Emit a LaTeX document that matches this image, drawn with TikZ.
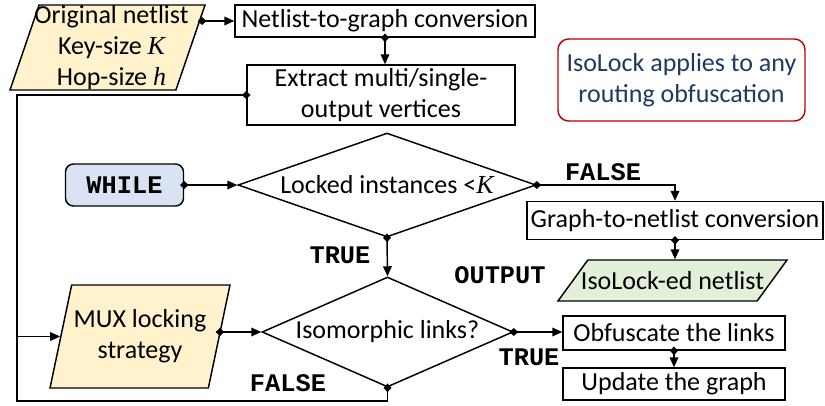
\documentclass[tikz,border=0pt]{standalone}
\usepackage{fontspec}
\setmainfont{Carlito}
\setmonofont{Liberation Mono}
\newfontfamily\serifvar{Liberation Serif}
\newcommand\mv[1]{{\serifvar\itshape #1}}
\usetikzlibrary{shapes.geometric,arrows.meta,calc}
\definecolor{inpc}{HTML}{FFF2CC}
\definecolor{whc}{HTML}{DAE3F3}
\definecolor{outc}{HTML}{E2F0D9}
\definecolor{notered}{HTML}{C00000}
\definecolor{notetext}{HTML}{203864}
\begin{document}
\begin{tikzpicture}[x=0.75pt,y=-0.75pt,
  font=\fontsize{19.5}{23.5}\selectfont, line width=1.1pt,
  box/.style={draw, fill=white, inner sep=0pt, align=center},
  para/.style={draw, trapezium, trapezium stretches=true, inner sep=2pt},
  dia/.style={draw, diamond, inner sep=2pt, fill=white},
  txt/.style={inner sep=0pt, align=center},
  flag/.style={font=\fontsize{19}{20}\selectfont\ttfamily\bfseries, inner sep=0pt},
  conn/.style={{Diamond[length=6.5pt,width=6pt]}-{Triangle[length=7.5pt,width=6.5pt]}, shorten <=-3.2pt},
  dstart/.style={{Diamond[length=6.5pt,width=6pt]}-, shorten <=-3.2pt}]
\useasboundingbox (0,0) rectangle (825,405);

% nodes
\node[para, fill=inpc, minimum width=146.25pt, minimum height=63.75pt,
  trapezium left angle=78, trapezium right angle=102] (inp) at (107.5,47.5) {};
\node[txt] (inptxt) at ([xshift=3pt]inp.center) {Original netlist\\Key-size \mv{K}\\Hop-size \mv{h}};
\node[box, minimum width=225pt, minimum height=24pt] (ntg) at (385,21) {Netlist-to-graph conversion};
\node[box, minimum width=201pt, minimum height=45pt] (ext) at (381,95) {Extract multi/single-\\output vertices};
\node[draw=notered, rounded corners=8pt, text=notetext, align=center,
  minimum width=185.25pt, minimum height=61.5pt, inner sep=0pt] (note) at (681.5,80) {IsoLock applies to any\\routing obfuscation};
\node[draw, fill=whc, rounded corners=6pt, minimum width=88.5pt, minimum height=31.5pt,
  inner sep=0pt, font=\fontsize{19}{20}\selectfont\ttfamily\bfseries] (wh) at (124.5,185) {WHILE};
\node[dia, minimum width=223.5pt, minimum height=78pt] (lk) at (387,185) {};
\node[txt] (lktxt) at (lk.center) {Locked instances <\mv{K}};
\node[box, minimum width=222pt, minimum height=28.5pt] (gtn) at (675,220.5) {Graph-to-netlist conversion};
\node[para, fill=outc, minimum width=171.75pt, minimum height=30.75pt,
  trapezium left angle=80, trapezium right angle=100] (out) at (672.5,280.5) {};
\node[txt] (outtxt) at (out.center) {IsoLock-ed netlist};
\node[para, fill=inpc, minimum width=135pt, minimum height=77.25pt,
  trapezium left angle=81, trapezium right angle=99] (mux) at (140,336.5) {};
\node[txt] (muxtxt) at (mux.center) {MUX locking\\strategy};
\node[dia, minimum width=188.25pt, minimum height=82.5pt] (iso) at (387.5,332) {};
\node[txt] (isotxt) at (iso.center) {Isomorphic links?};
\node[box, minimum width=166.5pt, minimum height=25.5pt] (obf) at (674,333) {Obfuscate the links};
\node[box, minimum width=166.5pt, minimum height=24pt] (upd) at (674,384) {Update the graph};

% flags
\node[flag] (f1) at (603,172) {FALSE};
\node[flag] (t1) at (340,255) {TRUE};
\node[flag] (o1) at (500,275) {OUTPUT};
\node[flag] (t2) at (529,357) {TRUE};
\node[flag] (f2) at (288,383) {FALSE};

\coordinate (lft) at (17,401);

% connectors
\draw[conn] ([xshift=-3pt]inp.top right corner |- ntg.west) -- (ntg.west);
\draw[conn] (ntg.south) -- (ntg.south |- ext.north);
\draw[conn] (ext.west) -- (lft |- ext.west) |- (mux.west);
\draw[dstart] (iso.south) |- (lft) -- (lft |- mux.west);
\draw[conn] (wh.east) -- (lk.west);
\draw[conn] (lk.east) -| (gtn.north);
\draw[conn] (gtn.south) -- (gtn.south |- out.north);
\draw[conn] (lk.south) -- (iso.north);
\draw[conn] (iso.west -| mux.east) -- (iso.west);
\draw[conn] (iso.east) -- (iso.east -| obf.west);
\draw[conn] (obf.south) -- (upd.north);
\end{tikzpicture}
\end{document}
